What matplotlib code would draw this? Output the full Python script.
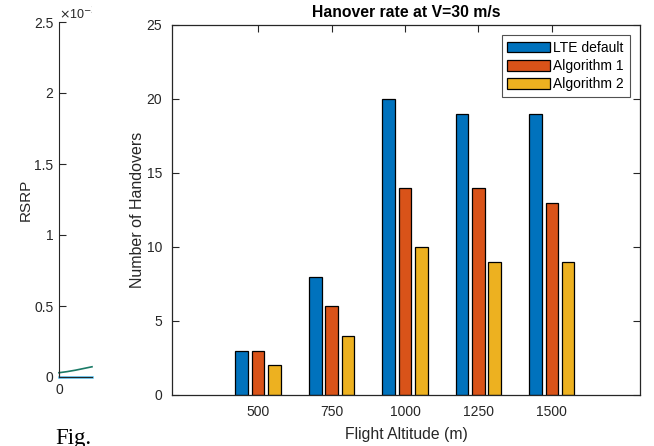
import matplotlib
matplotlib.use("Agg")
import matplotlib.pyplot as plt
from matplotlib.transforms import Bbox
import numpy as np

# data
altitudes = [500, 750, 1000, 1250, 1500]
lte_default = [3, 8, 20, 19, 19]
algorithm_1 = [3, 6, 14, 14, 13]
algorithm_2 = [2, 4, 10, 9, 9]
series_names = ["LTE default", "Algorithm 1", "Algorithm 2"]

# partial neighbouring plot (RSRP, x1e-3)
rsrp_x = [0, 10, 20, 30, 40]
rsrp_green = [0.03, 0.038, 0.048, 0.06, 0.072]
rsrp_cyan = [0.0, 0.0, 0.0, 0.0, 0.0]

colors = ["#0072BD", "#D95319", "#EDB120"]
dark = "#262626"

plt.rcParams["font.family"] = ["Liberation Sans", "DejaVu Sans"]
plt.rcParams["font.size"] = 10

W, H = 654, 446
fig = plt.figure(figsize=(W / 100, H / 100), dpi=100)


def px_axes(x0, y0, x1, y1):
    return fig.add_axes([x0 / W, 1 - y1 / H, (x1 - x0) / W, (y1 - y0) / H])


# left partial axes
ax_l = px_axes(59, 22, 92, 377)
ax_l.plot(rsrp_x, rsrp_green, color="#1a7a66", linewidth=1.2, clip_on=False)
ax_l.plot(rsrp_x, rsrp_cyan, color="#4DBEEE", linewidth=1.8, clip_on=False)
ax_l.set_xlim(0, 40)
ax_l.set_ylim(0, 2.5)
ax_l.set_yticks([0, 0.5, 1, 1.5, 2, 2.5])
ax_l.set_yticklabels(["0", "0.5", "1", "1.5", "2", "2.5"])
ax_l.set_xticks([0])
ax_l.spines["top"].set_visible(False)
ax_l.spines["right"].set_visible(False)
for s in ax_l.spines.values():
    s.set_color(dark)
ax_l.tick_params(direction="in", length=5, colors=dark, labelsize=10, pad=4)
ax_l.set_ylabel("RSRP", color=dark, fontsize=11, labelpad=1)
exp_txt = ax_l.text(0.0, 1.0, r"$\times$10$^{-3}$", transform=ax_l.transAxes,
                    ha="left", va="bottom", fontsize=9, color=dark)
exp_txt.set_clip_box(Bbox.from_extents(0, 0, 92, H))
exp_txt.set_clip_on(True)

# main axes
ax = px_axes(172, 25, 640, 395)
x = np.array(altitudes)
bw = 43
off = 55.5
for i, (vals, name) in enumerate(zip([lte_default, algorithm_1, algorithm_2], series_names)):
    ax.bar(x + (i - 1) * off, vals, width=bw, color=colors[i], edgecolor="black",
           linewidth=0.9, label=name, zorder=2)

ax.set_xlim(207, 1800)
ax.set_ylim(0, 25)
ax.set_xticks(altitudes)
ax.set_yticks([0, 5, 10, 15, 20, 25])
ax.tick_params(direction="in", length=5, colors=dark, labelsize=10,
               top=True, right=True, pad=7)
for s in ax.spines.values():
    s.set_color(dark)
    s.set_linewidth(0.9)
ax.set_title("Hanover rate at V=30 m/s", fontweight="bold", fontsize=11.3,
             color="black", pad=6)
ax.set_xlabel("Flight Altitude (m)", fontsize=11.3, color=dark, labelpad=6)
ax.set_ylabel("Number of Handovers", fontsize=11.5, color=dark, labelpad=1)

leg = ax.legend(loc="upper right", fontsize=10, frameon=True, fancybox=False,
                edgecolor="#262626", handlelength=3.05, handleheight=0.8,
                borderpad=0.4, labelspacing=0.3, handletextpad=0.25,
                borderaxespad=0.75)
leg.get_frame().set_linewidth(0.8)

fig.text(55 / W, 1 - 428 / H, "Fig.", family=["Liberation Serif", "DejaVu Serif"],
         fontsize=16.5, ha="left", va="top", color="black")

fig.savefig("out.png", dpi=100)
